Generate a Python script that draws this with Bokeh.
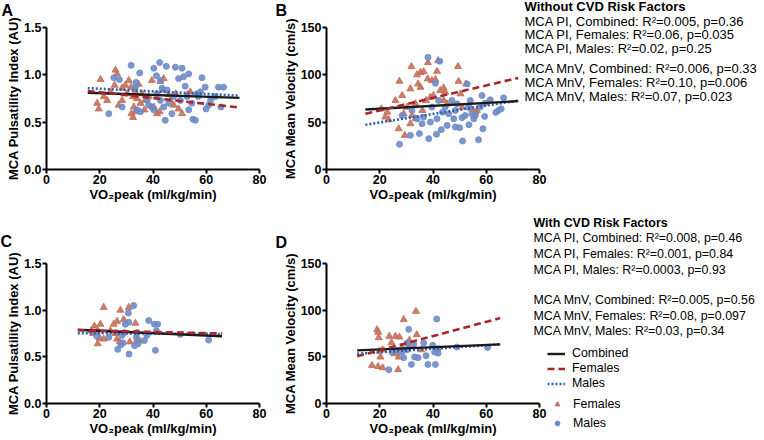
from bokeh.plotting import figure
from bokeh.models import Range1d, FixedTicker, PrintfTickFormatter, Label, Legend, LegendItem, GridBox
from bokeh.layouts import column
from bokeh.embed import file_html
from bokeh.resources import INLINE

# ---------------- data ----------------
xticks = [0, 20, 40, 60, 80]
pi_ticks = [0.0, 0.5, 1.0, 1.5]
mnv_ticks = [0, 50, 100, 150]

# Panel A: PI without CVD risk factors
fa_x = [20.3, 19.0, 19.6, 25.9, 26.5, 25.6, 27.1, 28.4, 29.6, 30.9, 31.8, 32.5, 31.9, 32.5, 32.8, 33.4, 34.0, 35.3, 35.9, 37.1, 38.4, 39.6,
        40.3, 41.5, 42.5, 42.8, 44.0, 43.8, 45.9, 46.5, 47.8, 49.6, 50.9, 48.5, 52.8, 54.0, 28.4, 30.3, 24.0, 22.8, 21.5, 34.6, 36.8, 33.4]
fa_y = [0.95, 0.70, 0.64, 1.05, 1.01, 0.89, 0.68, 0.86, 0.89, 0.94, 0.87, 0.77, 0.59, 0.55, 0.66, 0.61, 0.75, 0.70, 0.80, 0.73, 0.77, 0.94,
        0.66, 0.59, 0.61, 0.93, 0.96, 0.84, 0.79, 0.73, 0.68, 0.64, 0.59, 0.80, 0.79, 0.82, 0.73, 0.80, 0.82, 0.73, 0.77, 0.90, 0.63, 0.82]
ma_x = [23.4, 25.3, 27.4, 28.4, 31.8, 33.4, 33.6, 35.0, 34.0, 35.3, 38.4, 40.3, 41.3, 42.5, 42.8, 45.0, 44.6, 45.3, 47.1, 48.4, 49.6, 50.9,
        51.5, 52.1, 53.4, 53.4, 54.6, 55.0, 55.9, 56.5, 57.8, 58.4, 59.6, 59.9, 60.9, 64.6, 66.5, 65.5, 50.3, 47.8, 45.9, 44.0, 42.8, 41.5,
        39.6, 37.8, 40.3, 43.4, 52.8, 57.0, 63.4, 61.6]
ma_y = [0.59, 0.97, 0.95, 0.66, 1.10, 0.87, 0.92, 1.02, 0.63, 0.61, 0.68, 1.07, 0.99, 1.13, 0.94, 1.09, 0.52, 0.84, 0.59, 1.08, 0.96, 1.07,
        0.98, 0.88, 1.01, 0.63, 0.70, 0.53, 0.52, 0.80, 0.82, 0.97, 0.87, 0.64, 0.68, 0.87, 0.87, 0.66, 0.73, 0.77, 0.70, 0.66, 0.73, 0.80,
        0.66, 0.73, 0.63, 0.86, 0.77, 0.77, 0.77, 0.73]
fit_a_x = [15.5, 72.5]
fit_a_comb = [0.81, 0.757]
fit_a_fem = [0.83, 0.655]
fit_a_male = [0.86, 0.78]

# Panel B: MnV without CVD risk factors
fb_x = [31.9, 34.0, 35.3, 36.5, 38.0, 38.1, 41.9, 41.5, 39.6, 40.9, 35.3, 34.4, 31.5, 28.4, 27.4, 25.9, 22.8, 22.1, 23.4, 27.1, 29.4, 31.5,
        32.1, 33.4, 36.0, 37.4, 39.0, 40.2, 42.7, 44.0, 44.6, 44.0, 45.3, 49.4, 49.6, 50.9, 52.4, 54.4, 55.9, 56.5, 50.3, 33.4, 30.3, 29.0, 20.6]
fb_y = [108.7, 100.0, 102.6, 103.4, 95.7, 112.9, 115.0, 103.7, 93.9, 95.0, 86.9, 90.4, 85.2, 78.2, 93.2, 72.9, 60.6, 55.4, 52.6, 43.1, 36.1,
        48.4, 57.1, 53.6, 62.4, 72.9, 76.4, 78.2, 83.4, 86.2, 81.7, 72.9, 69.4, 108.7, 93.2, 65.9, 90.4, 64.1, 60.6, 62.4, 79.9, 69.4, 65.9,
        58.9, 64.1]
mb_x = [38.1, 42.5, 27.4, 31.5, 34.9, 38.4, 41.3, 43.1, 45.3, 48.4, 50.0, 51.1, 53.5, 57.1, 58.75, 59.4, 58.4, 61.5, 63.6, 64.6, 65.6, 66.5,
        40.9, 43.6, 45.9, 48.4, 50.9, 52.1, 54.6, 55.3, 55.9, 53.4, 49.0, 39.6, 36.5, 34.0, 32.1, 28.4, 35.9, 39.0, 41.5, 47.8, 52.8, 54.0,
        59.6, 57.75, 44.6, 47.1, 42.1]
mb_y = [118.5, 114.3, 26.6, 36.1, 37.9, 32.6, 37.2, 42.1, 46.6, 44.9, 44.2, 30.1, 47.3, 31.5, 43.1, 56.1, 78.2, 73.6, 60.3, 62.4, 64.1, 75.7,
        91.1, 60.6, 58.9, 62.4, 54.7, 57.1, 58.9, 53.6, 57.1, 65.9, 69.4, 65.9, 55.4, 53.6, 62.4, 57.1, 48.4, 50.1, 53.6, 53.6, 90.4, 72.9,
        70.1, 65.9, 65.9, 72.9, 72.9]
fit_b_x = [14.6, 72.0]
fit_b_comb = [63.4, 72.2]
fit_b_fem = [58.9, 96.7]
fit_b_male = [47.3, 72.9]

# Panel C: PI with CVD risk factors
fc_x = [21.5, 27.75, 30.9, 26.5, 29.0, 33.4, 18.0, 20.25, 19.25, 20.0, 19.25, 21.5, 24.0, 25.9, 26.5, 27.5, 31.25, 34.0, 35.0, 25.25, 17.5, 16.75]
fc_y = [1.03, 1.00, 1.03, 0.88, 0.90, 0.86, 0.83, 0.85, 0.78, 0.70, 0.64, 0.69, 0.78, 0.75, 0.69, 0.66, 0.66, 0.68, 0.67, 0.85, 0.75, 0.78]
mc_x = [32.75, 30.75, 30.9, 29.6, 29.25, 28.4, 28.75, 28.0, 26.75, 31.0, 33.1, 34.4, 36.75, 38.4, 40.5, 41.75, 41.25, 40.9, 33.75, 18.9,
        23.4, 50.25, 60.9, 34.0, 37.75]
mc_y = [1.05, 0.97, 0.87, 0.85, 0.76, 0.73, 0.65, 0.63, 0.58, 0.53, 0.62, 0.64, 0.675, 0.89, 0.85, 0.85, 0.78, 0.57, 0.71, 0.72, 0.71, 0.74,
        0.68, 0.76, 0.73]
fit_c_x = [11.75, 65.9]
fit_c_comb = [0.79, 0.72]
fit_c_fem = [0.785, 0.75]
fit_c_male = [0.754, 0.745]

# Panel D: MnV with CVD risk factors
fd_x = [33.6, 29.0, 19.0, 19.4, 19.6, 23.6, 25.9, 27.4, 24.4, 31.1, 33.9, 19.9, 21.1, 20.25, 19.4, 21.1, 17.1, 26.9, 25.6, 28.4, 31.1, 35.6, 27.1]
fd_y = [98.8, 89.9, 79.1, 76.3, 70.5, 72.0, 72.0, 71.2, 65.2, 67.7, 73.8, 56.2, 57.6, 49.8, 39.7, 38.3, 40.8, 36.2, 53.3, 60.5, 61.2, 57.6, 49.8]
md_x = [41.4, 30.9, 23.4, 30.25, 32.75, 36.5, 33.1, 31.9, 34.4, 30.25, 28.4, 37.4, 38.1, 40.6, 40.9, 41.9, 39.9, 41.9, 49.0, 60.5, 26.5, 29.0, 24.6]
md_y = [90.6, 79.5, 36.2, 64.8, 63.4, 64.8, 49.8, 41.9, 49.1, 57.6, 55.1, 51.2, 41.9, 55.1, 41.9, 53.9, 62.3, 58.7, 60.5, 60.1, 56.9, 49.0, 55.1]
fit_d_x = [11.5, 65.25]
fit_d_comb = [56.9, 63.4]
fit_d_fem = [50.5, 91.5]
fit_d_male = [53.3, 63.4]

panel_letters = ["A", "B", "C", "D"]
top_title = "Without CVD Risk Factors"
top_lines = ["MCA PI, Combined: R\u00b2=0.005, p=0.36",
             "MCA PI, Females: R\u00b2=0.06, p=0.035",
             "MCA PI, Males: R\u00b2=0.02, p=0.25",
             "MCA MnV, Combined: R\u00b2=0.006, p=0.33",
             "MCA MnV, Females: R\u00b2=0.10, p=0.006",
             "MCA MnV, Males: R\u00b2=0.07, p=0.023"]
bot_title = "With CVD Risk Factors"
bot_lines = ["MCA PI, Combined: R\u00b2=0.008, p=0.46",
             "MCA PI, Females: R\u00b2=0.001, p=0.84",
             "MCA PI, Males: R\u00b2=0.0003, p=0.93",
             "MCA MnV, Combined: R\u00b2=0.005, p=0.56",
             "MCA MnV, Females: R\u00b2=0.08, p=0.097",
             "MCA MnV, Males: R\u00b2=0.03, p=0.34"]
legend_line_labels = ["Combined", "Females", "Males"]
legend_point_labels = ["Females", "Males"]

XLABEL = "VO\u2082peak (ml/kg/min)"
PI_LABEL = "MCA Pulsatility Index (AU)"
MNV_LABEL = "MCA Mean Velocity (cm/s)"

# ---------------- styling ----------------
FONT = "Liberation Sans"
F_COLOR = "#c4705c"
M_COLOR = "#6e8cc8"
FL_COLOR = "#a8262b"
ML_COLOR = "#2a62ae"
C_COLOR = "#1a1a1a"

TOP_H, BOT_H = 215, 225
LEFT_W, RIGHT_W = 276, 488
TOT_W, TOT_H = LEFT_W + RIGHT_W, TOP_H + BOT_H


def make_panel(width, height, bl, br, bt, bb, ymax, yticks, fmt, ylabel):
    p = figure(width=width, height=height, x_range=Range1d(0, 80), y_range=Range1d(0, ymax),
               output_backend="svg", toolbar_location=None, min_border=0,
               min_border_left=bl, min_border_right=br, min_border_top=bt, min_border_bottom=bb)
    p.outline_line_color = None
    p.xgrid.visible = False
    p.ygrid.visible = False
    for ax in (p.xaxis[0], p.yaxis[0]):
        ax.axis_line_width = 2
        ax.axis_line_color = "black"
        ax.major_tick_line_width = 2
        ax.major_tick_line_color = "black"
        ax.major_tick_out = 4
        ax.major_tick_in = 0
        ax.minor_tick_out = 0
        ax.minor_tick_in = 0
        ax.major_label_text_font = FONT
        ax.major_label_text_font_style = "bold"
        ax.major_label_text_font_size = "12.5px"
        ax.major_label_text_color = "black"
        ax.major_label_standoff = 1
        ax.axis_label_text_font = FONT
        ax.axis_label_text_font_style = "bold"
        ax.axis_label_text_font_size = "13px"
        ax.axis_label_text_color = "black"
        ax.axis_label_standoff = 0
    p.xaxis[0].ticker = FixedTicker(ticks=xticks)
    p.yaxis[0].ticker = FixedTicker(ticks=yticks)
    p.yaxis[0].formatter = PrintfTickFormatter(format=fmt)
    p.xaxis[0].axis_label = XLABEL
    p.yaxis[0].axis_label = ylabel
    return p


def add_data(p, fx, fy, mx, my, lx, lc, lf, lm):
    p.scatter(fx, fy, marker="triangle", size=7, fill_color=F_COLOR, line_color=F_COLOR,
              fill_alpha=0.9, line_alpha=0.9)
    p.scatter(mx, my, marker="circle", size=6, fill_color=M_COLOR, line_color=M_COLOR,
              fill_alpha=0.9, line_alpha=0.9)
    p.line(lx, lm, line_color=ML_COLOR, line_width=2.6, line_dash="2 2")
    p.line(lx, lc, line_color=C_COLOR, line_width=2.4)
    p.line(lx, lf, line_color=FL_COLOR, line_width=2.6, line_dash="7 4")


# ---------------- panels ----------------
pa = make_panel(LEFT_W, TOP_H, 46, 17, 27, 46, 1.5, pi_ticks, "%.1f", PI_LABEL)
add_data(pa, fa_x, fa_y, ma_x, ma_y, fit_a_x, fit_a_comb, fit_a_fem, fit_a_male)

pb = make_panel(RIGHT_W, TOP_H, 50, 225, 27, 46, 150, mnv_ticks, "%d", MNV_LABEL)
add_data(pb, fb_x, fb_y, mb_x, mb_y, fit_b_x, fit_b_comb, fit_b_fem, fit_b_male)

pc = make_panel(LEFT_W, BOT_H, 46, 17, 48, 37, 1.5, pi_ticks, "%.1f", PI_LABEL)
add_data(pc, fc_x, fc_y, mc_x, mc_y, fit_c_x, fit_c_comb, fit_c_fem, fit_c_male)

pd_ = make_panel(RIGHT_W, BOT_H, 50, 225, 48, 37, 150, mnv_ticks, "%d", MNV_LABEL)
add_data(pd_, fd_x, fd_y, md_x, md_y, fit_d_x, fit_d_comb, fit_d_fem, fit_d_male)

# ---------------- transparent overlay for letters, notes and legend ----------------
ov = figure(width=TOT_W, height=TOT_H, x_range=Range1d(0, TOT_W), y_range=Range1d(TOT_H, 0),
            x_axis_type=None, y_axis_type=None, output_backend="svg", toolbar_location=None,
            min_border=0)
ov.outline_line_color = None
ov.background_fill_alpha = 0
ov.border_fill_alpha = 0


def txt(text, x, y, size, bold=False):
    ov.add_layout(Label(x=x, y=y, text=text, text_font=FONT,
                        text_font_style="bold" if bold else "normal",
                        text_font_size=size, text_baseline="middle", text_align="left",
                        text_color="black"))


for t, (lx, ly) in zip(panel_letters, [(1, 10), (275, 10), (0, 241), (275, 242)]):
    txt(t, lx, ly, "16px", bold=True)

txt(top_title, 524, 6, "13px", bold=True)
for t, yy in zip(top_lines, [20.7, 34.3, 48.3, 68.3, 81.7, 96.0]):
    txt(t, 524, yy, "13px")

txt(bot_title, 533, 222, "12.4px", bold=True)
for t, yy in zip(bot_lines, [237, 253, 269, 299, 315, 330]):
    txt(t, 533, yy, "12.4px")

# legend-only renderers: their single sample sits outside the visible range
off_x, off_y = [-50, -40], [-50, -50]
lr_c = ov.line(x=off_x, y=off_y, line_color=C_COLOR, line_width=2.4)
lr_f = ov.line(x=off_x, y=off_y, line_color=FL_COLOR, line_width=2.6, line_dash="7 4")
lr_m = ov.line(x=off_x, y=off_y, line_color=ML_COLOR, line_width=2.6, line_dash="2 2")
lp_f = ov.scatter(x=off_x[:1], y=off_y[:1], marker="triangle", size=5, fill_color=F_COLOR, line_color=F_COLOR)
lp_m = ov.scatter(x=off_x[:1], y=off_y[:1], marker="circle", size=4.5, fill_color=M_COLOR, line_color=M_COLOR)

leg1 = Legend(items=[LegendItem(label=l, renderers=[r]) for l, r in zip(legend_line_labels, [lr_c, lr_f, lr_m])],
              location=(547, TOT_H - 390.5))
leg2 = Legend(items=[LegendItem(label=l, renderers=[r]) for l, r in zip(legend_point_labels, [lp_f, lp_m])],
              location=(551, TOT_H - 432.5))
for lg, h, gw, gh, so in ((leg1, 15, 18, 15, 7), (leg2, 19, 12, 12, 10)):
    lg.border_line_color = None
    lg.background_fill_alpha = 0
    lg.padding = 0
    lg.margin = 0
    lg.spacing = 0
    lg.label_height = h
    lg.glyph_height = gh
    lg.glyph_width = gw
    lg.label_standoff = so
    lg.label_text_font = FONT
    lg.label_text_font_size = "12.4px"
    lg.label_text_color = "black"
    ov.add_layout(lg)

layout = GridBox(children=[(pa, 0, 0), (pb, 0, 1), (pc, 1, 0), (pd_, 1, 1), (column(ov), 0, 0, 2, 2)])
open("out.html", "w").write(file_html(layout, INLINE))
